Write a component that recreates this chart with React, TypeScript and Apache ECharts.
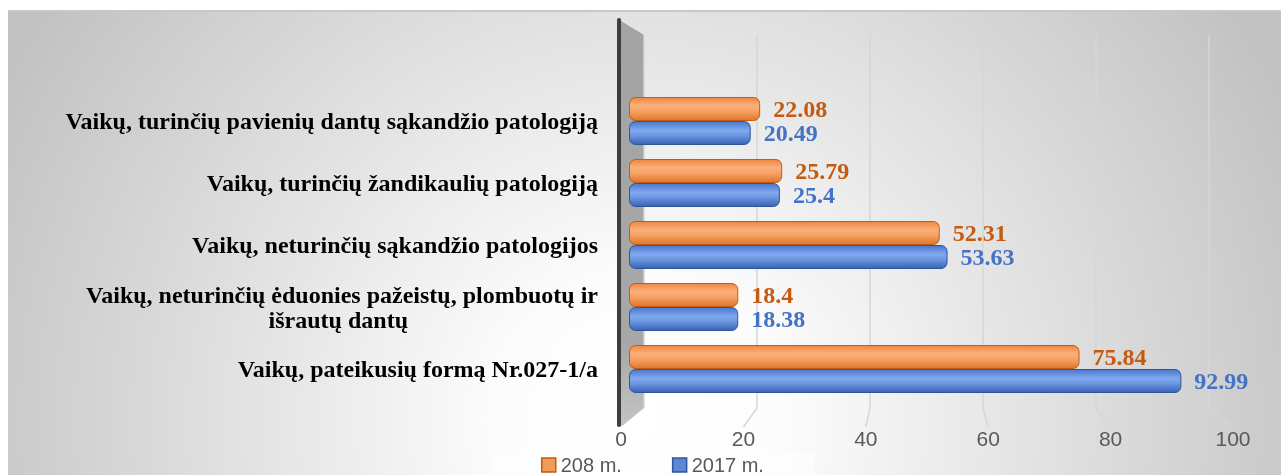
import React, { useEffect, useRef } from 'react';
import * as echarts from 'echarts';

const categories = [
  'Vaikų, pateikusių formą Nr.027-1/a',
  'Vaikų, neturinčių ėduonies pažeistų, plombuotų ir\nišrautų dantų',
  'Vaikų, neturinčių sąkandžio patologijos',
  'Vaikų, turinčių žandikaulių patologiją',
  'Vaikų, turinčių pavienių dantų sąkandžio patologiją',
];
const values208 = [75.84, 18.4, 52.31, 25.79, 22.08];
const values2017 = [92.99, 18.38, 53.63, 25.4, 20.49];
const seriesNames = ['208 m.', '2017 m.'];
const tickValues = [0, 20, 40, 60, 80, 100];

const SERIF = '"Liberation Serif", "Times New Roman", serif';
const SANS = '"Liberation Sans", Arial, sans-serif';

export default function App() {
  const ref = useRef<HTMLDivElement>(null);
  useEffect(() => {
    if (!ref.current) return;
    const chart = echarts.init(ref.current, null, { renderer: 'svg' });
    const orangeFill = new echarts.graphic.LinearGradient(0, 0, 0, 1, [
      { offset: 0, color: '#ee8742' },
      { offset: 0.35, color: '#f9b07a' },
      { offset: 0.6, color: '#f6a264' },
      { offset: 1, color: '#df752c' },
    ]);
    const blueFill = new echarts.graphic.LinearGradient(0, 0, 0, 1, [
      { offset: 0, color: '#4a78cf' },
      { offset: 0.4, color: '#80a9ee' },
      { offset: 0.6, color: '#6d97e0' },
      { offset: 1, color: '#3863b6' },
    ]);
    const catFormatter = (v: string) => {
      const lines = v.split('\n');
      return lines.map((l, i) => (i === 0 ? `{n|${l}}` : `{c|${l}}`)).join('\n');
    };
    const richBase = { fontFamily: SERIF, fontWeight: 'bold' as const, fontSize: 24, color: '#000', lineHeight: 25 };
    chart.setOption({
      animation: false,
      grid: [
        { left: 629, right: 58, top: 90, height: 310 },
        { left: 621, right: 48, top: 35, height: 392 },
        { left: 644, right: 72, top: 35, height: 373 },
      ],
      xAxis: [
        { gridIndex: 0, type: 'value', min: 0, max: 100, show: false },
        {
          gridIndex: 1, type: 'value', min: 0, max: 100, interval: 20,
          axisLine: { show: false }, axisTick: { show: false }, splitLine: { show: false },
          axisLabel: { color: '#595959', fontSize: 21, fontFamily: SANS, margin: 1 },
        },
        {
          gridIndex: 2, type: 'value', min: 0, max: 100, interval: 20,
          axisLine: { show: false }, axisTick: { show: false }, axisLabel: { show: false },
          splitLine: { show: true, lineStyle: { color: '#d6d6d6', width: 1.5 } },
        },
      ],
      yAxis: [
        {
          gridIndex: 0, type: 'category', data: categories,
          axisLine: { show: false }, axisTick: { show: false }, splitLine: { show: false },
          axisLabel: {
            margin: 31, formatter: catFormatter,
            rich: { n: { ...richBase }, c: { ...richBase, padding: [0, 190, 0, 0] } },
          },
        },
        { gridIndex: 1, type: 'category', show: false, data: ['a'] },
        { gridIndex: 2, type: 'category', show: false, data: ['a'] },
      ],
      legend: {
        left: 492, top: 453, padding: [2, 50, 2, 49], itemGap: 50, itemWidth: 14, itemHeight: 14,
        backgroundColor: 'rgba(255,255,255,0.45)',
        textStyle: { color: '#595959', fontSize: 20, fontFamily: SANS },
        data: [
          { name: seriesNames[0], icon: 'rect', itemStyle: { color: '#f29b58', borderColor: '#c55a11', borderWidth: 1.5 } },
          { name: seriesNames[1], icon: 'rect', itemStyle: { color: '#5b87d6', borderColor: '#2f5597', borderWidth: 1.5 } },
        ],
      },
      series: [
        {
          name: seriesNames[0], type: 'bar', xAxisIndex: 0, yAxisIndex: 0, data: values208,
          barWidth: 24, barGap: '0%',
          itemStyle: { color: orangeFill, borderColor: '#c55a11', borderWidth: 1, borderRadius: 6 },
          label: { show: true, position: 'right', distance: 13, color: '#c55a11', fontFamily: SERIF, fontWeight: 'bold', fontSize: 24 },
        },
        {
          name: seriesNames[1], type: 'bar', xAxisIndex: 0, yAxisIndex: 0, data: values2017,
          barWidth: 24, barGap: '0%',
          itemStyle: { color: blueFill, borderColor: '#2f5597', borderWidth: 1, borderRadius: 6 },
          label: { show: true, position: 'right', distance: 13, color: '#4472c4', fontFamily: SERIF, fontWeight: 'bold', fontSize: 24 },
        },
      ],
    });

    const floorLines = tickValues.slice(1).map((v) => {
      const back = chart.convertToPixel({ xAxisIndex: 2 }, v) as number;
      const front = chart.convertToPixel({ xAxisIndex: 1 }, v) as number;
      return {
        type: 'line', z: -5, silent: true,
        shape: { x1: back, y1: 408, x2: front, y2: 427 },
        style: { stroke: '#d6d6d6', lineWidth: 1.5 },
      };
    });

    chart.setOption({
      graphic: [
        {
          type: 'rect', z: -20, silent: true,
          shape: { x: 8, y: 11, width: 1273, height: 464 },
          style: {
            fill: new echarts.graphic.RadialGradient(640, 420, 720, [
              { offset: 0, color: '#ffffff' },
              { offset: 0.2, color: '#fcfcfc' },
              { offset: 1, color: '#c2c2c2' },
            ], true),
          },
        },
        {
          type: 'line', z: -10, silent: true,
          shape: { x1: 8, y1: 11, x2: 1281, y2: 11 },
          style: { stroke: '#c8c8c8', lineWidth: 2 },
        },
        {
          type: 'polygon', z: -4, silent: true,
          shape: { points: [[621, 21], [644, 35], [644, 408], [621, 427]] },
          style: {
            fill: new echarts.graphic.LinearGradient(0, 0, 0, 1, [
              { offset: 0, color: '#a3a3a3' },
              { offset: 0.8, color: '#a8a8a8' },
              { offset: 1, color: '#c4c4c4' },
            ]),
          },
        },
        {
          type: 'rect', z: -3, silent: true,
          shape: { x: 617, y: 18, width: 4, height: 409, r: 2 },
          style: { fill: '#3d3d3d' },
        },
        ...floorLines,
      ],
    });
    return () => chart.dispose();
  }, []);
  return <div ref={ref} style={{ position: 'fixed', left: 0, top: 0, width: 1281, height: 475 }} />;
}
